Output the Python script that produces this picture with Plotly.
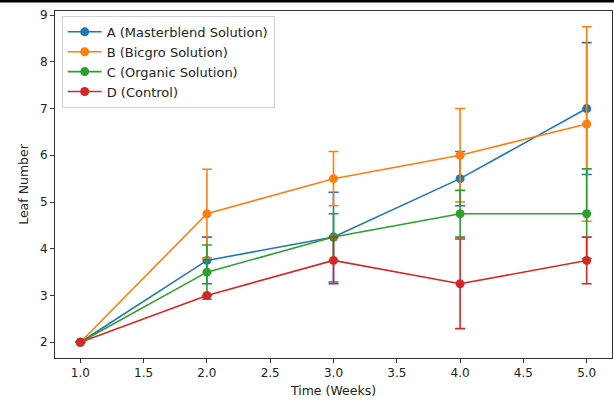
import plotly.graph_objects as go

weeks = [1.0, 2.0, 3.0, 4.0, 5.0]
series_names = ["A (Masterblend Solution)", "B (Bicgro Solution)", "C (Organic Solution)", "D (Control)"]
a_vals = [2.0, 3.75, 4.25, 5.5, 7.0]
b_vals = [2.0, 4.75, 5.5, 6.0, 6.67]
c_vals = [2.0, 3.5, 4.25, 4.75, 4.75]
d_vals = [2.0, 3.0, 3.75, 3.25, 3.75]
a_err = [0.0, 0.5, 0.96, 0.58, 1.41]
b_err = [0.0, 0.95, 0.58, 1.0, 2.08]
c_err = [0.0, 0.58, 0.5, 0.5, 0.96]
d_err = [0.0, 0.0, 0.5, 0.96, 0.5]
colors = ["#1f77b4", "#ff7f0e", "#2ca02c", "#d62728"]
x_ticks = [1.0, 1.5, 2.0, 2.5, 3.0, 3.5, 4.0, 4.5, 5.0]
y_ticks = [2, 3, 4, 5, 6, 7, 8, 9]

FONT = "DejaVu Sans"
fig = go.Figure()
for name, vals, errs, col in zip(series_names, [a_vals, b_vals, c_vals, d_vals],
                                 [a_err, b_err, c_err, d_err], colors):
    fig.add_trace(go.Scatter(
        x=weeks, y=vals, name=name, mode="lines+markers",
        line=dict(color=col, width=1.6),
        marker=dict(color=col, size=9),
        error_y=dict(type="data", array=errs, visible=True, color=col,
                     thickness=1.6, width=5),
    ))

fig.update_layout(
    width=614, height=400,
    margin=dict(l=55, r=2, t=11, b=42),
    plot_bgcolor="white", paper_bgcolor="white",
    font=dict(family=FONT, size=12, color="#222"),
    showlegend=True,
    legend=dict(x=0.012, y=0.986, xanchor="left", yanchor="top",
                bgcolor="rgba(255,255,255,0.85)", bordercolor="#d0d0d0", borderwidth=1,
                font=dict(family=FONT, size=13, color="#222"),
                tracegroupgap=0, itemwidth=34),
    xaxis=dict(range=[0.8, 5.2], tickvals=x_ticks, ticktext=[f"{v:.1f}" for v in x_ticks],
               showgrid=False, zeroline=False, showline=True, linecolor="#333", linewidth=1,
               mirror=True, ticks="outside", ticklen=4, tickcolor="#333",
               title=dict(text="Time (Weeks)", font=dict(size=12.5), standoff=6)),
    yaxis=dict(range=[1.6625, 9.0875], tickvals=y_ticks,
               showgrid=False, zeroline=False, showline=True, linecolor="#333", linewidth=1,
               mirror=True, ticks="outside", ticklen=4, tickcolor="#333",
               title=dict(text="Leaf Number", font=dict(size=12.5), standoff=8)),
    shapes=[dict(type="rect", xref="paper", yref="paper",
                 x0=-0.1, x1=1.01, y0=1.0245, y1=1.035,
                 fillcolor="black", line=dict(width=0), layer="above")],
)

fig.write_html("out.html")
